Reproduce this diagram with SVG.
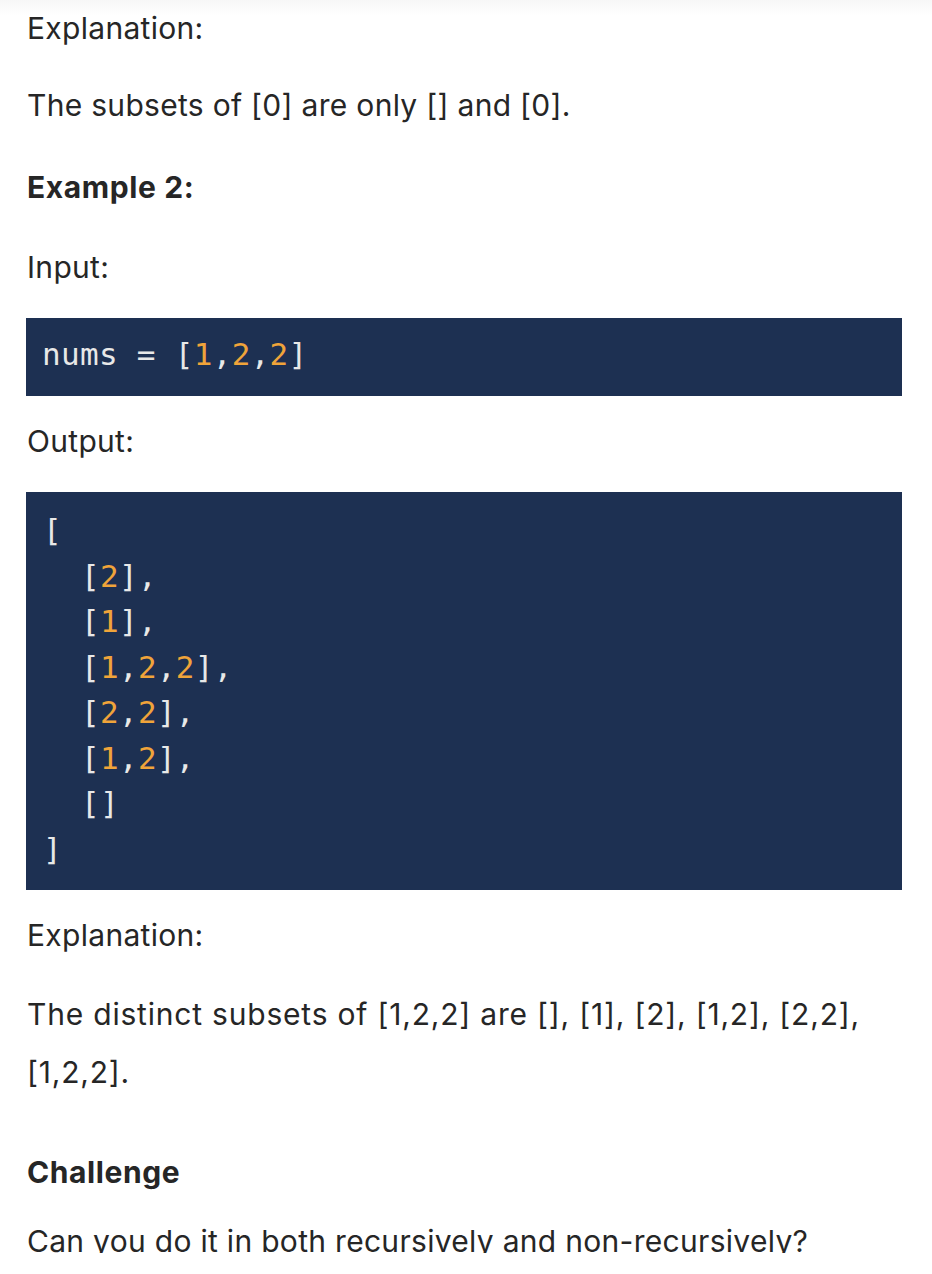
<svg xmlns="http://www.w3.org/2000/svg" width="932" height="1274" viewBox="0 0 932 1274">
<defs>
<linearGradient id="topShade" x1="0" y1="0" x2="0" y2="1">
<stop offset="0" stop-color="#f7f7f7"/>
<stop offset="1" stop-color="#ffffff"/>
</linearGradient>
<clipPath id="pageClip"><rect x="0" y="0" width="932" height="1253"/></clipPath>
</defs>
<style>
.body{font-family:Inter,Roboto,"Liberation Sans",sans-serif;font-size:30px;letter-spacing:0.3px;fill:#262626}
.bold{font-family:Inter,Roboto,"Liberation Sans",sans-serif;font-size:30px;letter-spacing:0.6px;font-weight:700;fill:#262626}
.wide{letter-spacing:0.8px}
.code{font-family:"DejaVu Sans Mono","Liberation Mono",monospace;font-size:31px;letter-spacing:0.3px;fill:#e8e8e8}
.num{fill:#f0a43a}
.box{fill:#1d3052}
</style>
<rect x="0" y="0" width="932" height="1274" fill="#ffffff"/>
<rect x="0" y="0" width="932" height="16" fill="url(#topShade)"/>
<g id="text" clip-path="url(#pageClip)">
<text class="body" x="27" y="39">Explanation:</text>
<text class="body" x="27" y="116">The subsets of [0] are only [] and [0].</text>
<text class="bold" x="27" y="198">Example 2:</text>
<text class="body" x="27" y="278">Input:</text>
<text class="body" x="27" y="452">Output:</text>
<text class="body" x="27" y="946">Explanation:</text>
<text class="body wide" x="27" y="1025">The distinct subsets of [1,2,2] are [], [1], [2], [1,2], [2,2],</text>
<text class="body wide" x="27" y="1083">[1,2,2].</text>
<text class="bold" x="27" y="1183">Challenge</text>
<text class="body" x="27" y="1252">Can you do it in both recursively and non-recursively?</text>
</g>
<g id="input-box">
<rect class="box" x="26" y="318" width="876" height="78"/>
<text class="code" x="42" y="365">nums = [<tspan class="num">1</tspan>,<tspan class="num">2</tspan>,<tspan class="num">2</tspan>]</text>
</g>
<g id="output-box">
<rect class="box" x="26" y="492" width="876" height="398"/>
<text class="code" x="43" y="541">[</text>
<text class="code" x="81" y="586.5">[<tspan class="num">2</tspan>],</text>
<text class="code" x="81" y="632">[<tspan class="num">1</tspan>],</text>
<text class="code" x="81" y="677.5">[<tspan class="num">1</tspan>,<tspan class="num">2</tspan>,<tspan class="num">2</tspan>],</text>
<text class="code" x="81" y="723">[<tspan class="num">2</tspan>,<tspan class="num">2</tspan>],</text>
<text class="code" x="81" y="768.5">[<tspan class="num">1</tspan>,<tspan class="num">2</tspan>],</text>
<text class="code" x="81" y="814">[]</text>
<text class="code" x="43" y="859.5">]</text>
</g>
</svg>
